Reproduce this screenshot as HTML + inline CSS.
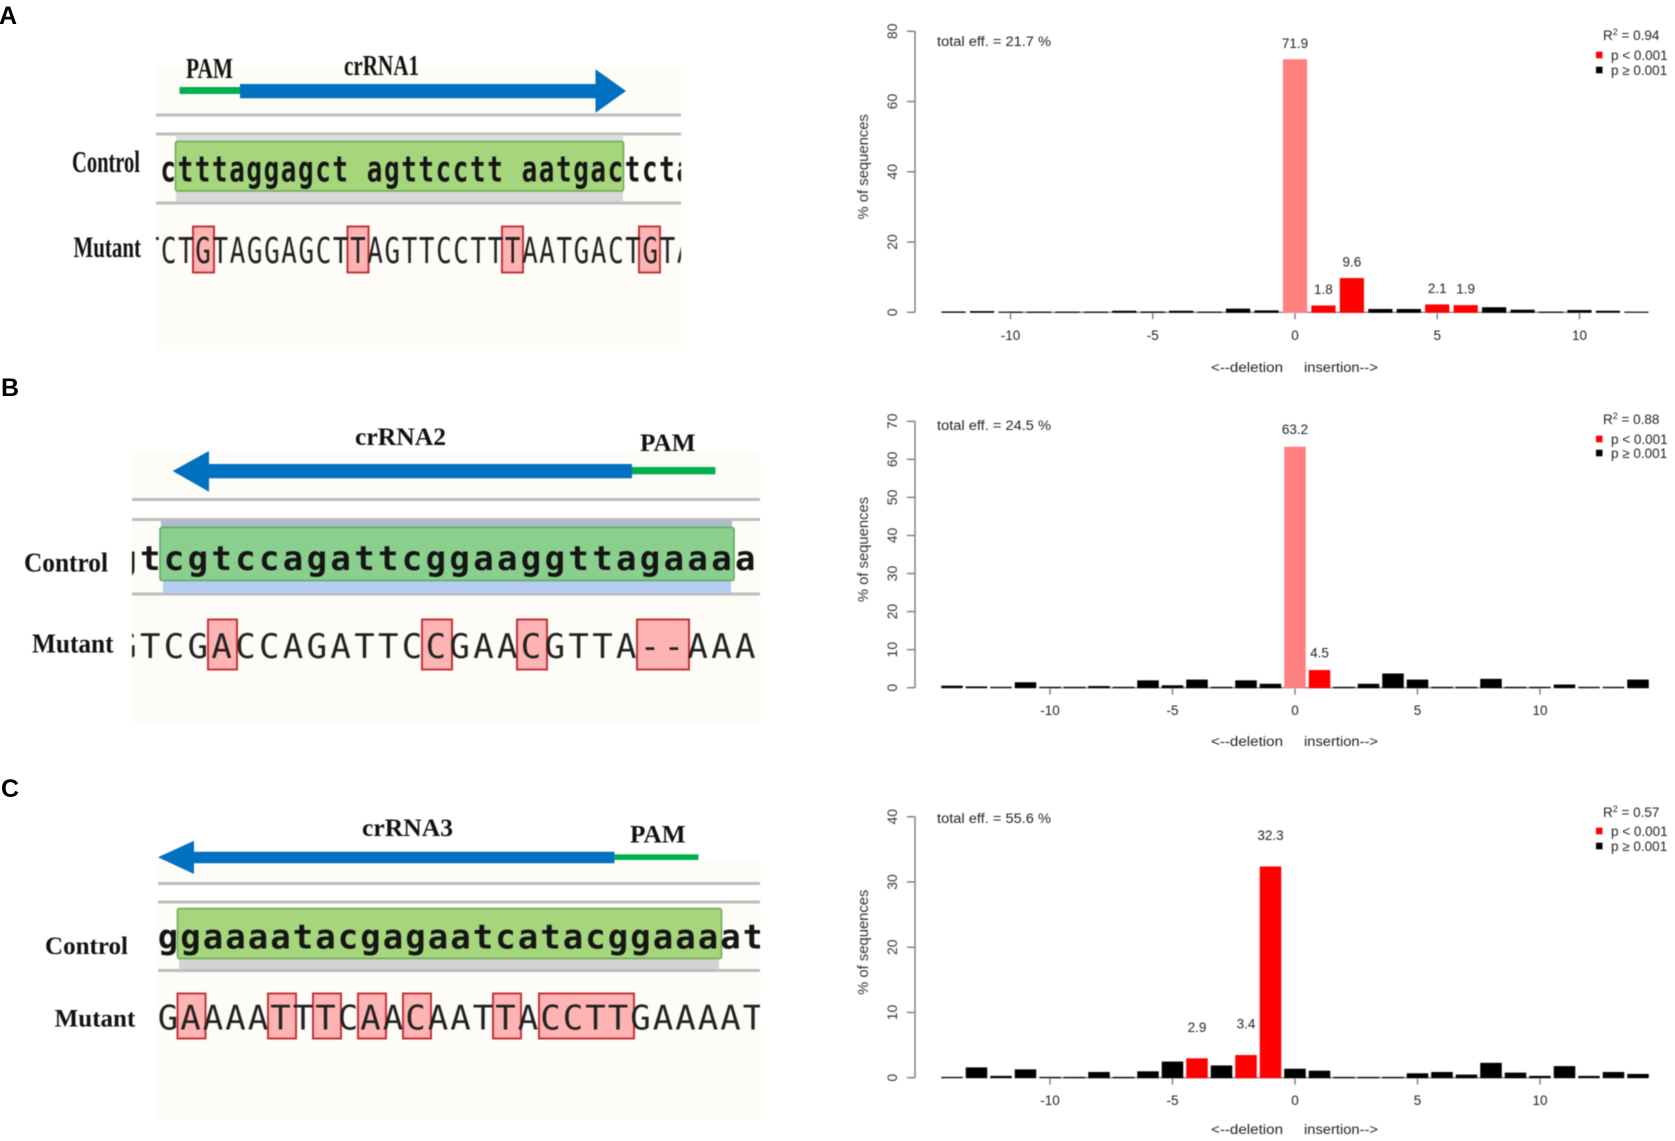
<!DOCTYPE html>
<html lang="en">
<head>
<meta charset="utf-8">
<title>crRNA target sequences and indel distributions</title>
<style>
html,body{margin:0;padding:0;background:#fff;width:1675px;height:1141px;overflow:hidden}
svg{display:block}
.serif{font-family:"Liberation Serif",serif;font-weight:bold;fill:#111}
.mono{font-family:"DejaVu Sans Mono","Liberation Mono",monospace;font-size:34px;fill:#222}
.mono.b{font-weight:bold;fill:#151515}
.panel{font-family:"Liberation Sans",sans-serif;font-weight:bold;font-size:25px;fill:#000}
.soft{filter:blur(.45px)}
.softer{filter:blur(.6px)}
.ct{font-family:"Liberation Sans",sans-serif;font-size:13.5px;fill:#222}
.box{fill:#ffb4b4;stroke:#c4323c;stroke-width:2}
.ln{fill:#bdbdbd}
</style>
</head>
<body>
<svg id="figure" xmlns="http://www.w3.org/2000/svg" width="1675" height="1141" viewBox="0 0 1675 1141">
<defs>
<clipPath id="clipA"><rect x="156" y="100" width="525" height="250"/></clipPath>
<clipPath id="clipB"><rect x="132" y="500" width="628" height="223"/></clipPath>
<clipPath id="clipC"><rect x="158" y="880" width="602" height="240"/></clipPath>
</defs>

<text class="panel" x="-1" y="24">A</text>
<text class="panel" x="1" y="396">B</text>
<text class="panel" x="1" y="797">C</text>

<!-- Panel A alignment -->
<g class="softer">
<rect x="156" y="67" width="525" height="283" fill="#fdfcf6"/>
<rect x="156" y="118" width="525" height="15" fill="#fff"/>
<rect class="ln" x="156" y="113.5" width="525" height="3"/>
<rect class="ln" x="156" y="132.5" width="525" height="3"/>
<rect class="ln" x="156" y="201.5" width="525" height="3"/>
<rect x="176" y="135" width="447" height="6" fill="#dcdcdc"/>
<rect x="176" y="191" width="447" height="11" fill="#d8d8d8"/>
<rect x="175.5" y="141.5" width="448" height="49.5" rx="2" fill="#a6d67c" stroke="#6aa850" stroke-width="1.5"/>
<text class="serif" x="186" y="78" font-size="29" textLength="47" lengthAdjust="spacingAndGlyphs">PAM</text>
<text class="serif" x="344" y="75" font-size="29" textLength="75" lengthAdjust="spacingAndGlyphs">crRNA1</text>
<rect x="179.5" y="87" width="60.5" height="7" fill="#00b050"/>
<polygon points="240,84 595.5,84 595.5,69.3 626,91 595.5,112.7 595.5,98.3 240,98.3" fill="#0070c0"/>
<text class="serif" x="72" y="172" font-size="31" textLength="68" lengthAdjust="spacingAndGlyphs">Control</text>
<text class="serif" x="73.5" y="257" font-size="30" textLength="67.5" lengthAdjust="spacingAndGlyphs">Mutant</text>
<rect class="box" x="193" y="226.5" width="21" height="46"/>
<rect class="box" x="347.5" y="226.5" width="21" height="46"/>
<rect class="box" x="502" y="226.5" width="21" height="46"/>
<rect class="box" x="639" y="226.5" width="21" height="46"/>
<g clip-path="url(#clipA)">
<text class="mono b" style="font-size:36px" letter-spacing="2.22" transform="translate(160.4 181.5) scale(.72 1)">ctttaggagct agttcctt aatgactcta</text>
<text class="mono" style="font-size:36px" letter-spacing="2.22" transform="translate(143.7 263) scale(.72 1)">TCTGTAGGAGCTTAGTTCCTTTAATGACTGTA</text>
</g>
</g>

<!-- Panel B alignment -->
<g class="softer">
<rect x="132" y="453" width="628" height="270" fill="#fdfcf6"/>
<rect x="132" y="502" width="628" height="16" fill="#fff"/>
<rect class="ln" x="132" y="498" width="628" height="3"/>
<rect class="ln" x="132" y="518" width="628" height="3"/>
<rect class="ln" x="132" y="592.5" width="628" height="3"/>
<rect x="161" y="521" width="571" height="6" fill="#a9bccb"/>
<rect x="163" y="581" width="568" height="12" fill="#b4cdf0"/>
<rect x="160" y="527.5" width="574" height="53" rx="2" fill="#8bcf8e" stroke="#5ea860" stroke-width="1.5"/>
<text class="serif" x="355" y="445" font-size="25" textLength="91" lengthAdjust="spacingAndGlyphs">crRNA2</text>
<text class="serif" x="640" y="451" font-size="25" textLength="55.5" lengthAdjust="spacingAndGlyphs">PAM</text>
<rect x="632" y="467" width="83.4" height="7.3" fill="#00b050"/>
<polygon points="632,464 209,464 209,451 172.6,471 209,491.7 209,478.3 632,478.3" fill="#0070c0"/>
<text class="serif" x="24" y="571.7" font-size="27" textLength="84" lengthAdjust="spacingAndGlyphs">Control</text>
<text class="serif" x="32" y="652.7" font-size="27" textLength="81.5" lengthAdjust="spacingAndGlyphs">Mutant</text>
<rect class="box" x="208" y="619.5" width="29" height="50"/>
<rect class="box" x="422" y="619.5" width="30" height="50"/>
<rect class="box" x="517" y="619.5" width="30" height="50"/>
<rect class="box" x="637" y="619.5" width="52" height="50"/>
<g clip-path="url(#clipB)">
<text class="mono b" letter-spacing="3.33" transform="translate(116.2 570)">gtcgtccagattcggaaggttagaaaag</text>
<text class="mono" letter-spacing="3.33" transform="translate(116.2 658)">GTCGACCAGATTCCGAACGTTA--AAAG</text>
</g>
</g>

<!-- Panel C alignment -->
<g class="softer">
<rect x="158" y="860" width="602" height="260" fill="#fdfcf6"/>
<rect x="158" y="886" width="602" height="15" fill="#fff"/>
<rect class="ln" x="158" y="882" width="602" height="3"/>
<rect class="ln" x="158" y="900.5" width="602" height="3"/>
<rect class="ln" x="158" y="969" width="602" height="3"/>
<rect x="179" y="958" width="540" height="11" fill="#d4d4d4"/>
<rect x="177.5" y="908.5" width="544" height="50" rx="2" fill="#a6d67c" stroke="#6aa850" stroke-width="1.5"/>
<text class="serif" x="362" y="836" font-size="25" textLength="91" lengthAdjust="spacingAndGlyphs">crRNA3</text>
<text class="serif" x="630" y="842.7" font-size="25" textLength="55.6" lengthAdjust="spacingAndGlyphs">PAM</text>
<rect x="614.4" y="854.3" width="84.1" height="5.7" fill="#00b050"/>
<polygon points="614.4,851.7 194,851.7 194,840.7 158,857.3 194,874 194,863.3 614.4,863.3" fill="#0070c0"/>
<text class="serif" x="45" y="954" font-size="25" textLength="83" lengthAdjust="spacingAndGlyphs">Control</text>
<text class="serif" x="54.7" y="1026.7" font-size="25" textLength="80.6" lengthAdjust="spacingAndGlyphs">Mutant</text>
<rect class="box" x="177.5" y="993.5" width="28" height="45"/>
<rect class="box" x="268" y="993.5" width="28" height="45"/>
<rect class="box" x="313" y="993.5" width="28" height="45"/>
<rect class="box" x="358" y="993.5" width="28" height="45"/>
<rect class="box" x="403" y="993.5" width="28" height="45"/>
<rect class="box" x="493" y="993.5" width="28" height="45"/>
<rect class="box" x="539" y="993.5" width="95" height="45"/>
<g clip-path="url(#clipC)">
<text class="mono b" letter-spacing="2.03" transform="translate(157.8 948.3)">ggaaaatacgagaatcatacggaaaat</text>
<text class="mono" letter-spacing="2.03" transform="translate(157.8 1029.3)">GAAAATTTCAACAATTACCTTGAAAAT</text>
</g>
</g>

<g id="chart-a" class="soft"></g>
<g id="chart-b" class="soft"></g>
<g id="chart-c" class="soft"></g>
</svg>

<script>
// Chart A data
const categoriesA = [-12,-11,-10,-9,-8,-7,-6,-5,-4,-3,-2,-1,0,1,2,3,4,5,6,7,8,9,10,11,12];
const valuesA = [0.1,0.2,0.05,0.05,0.05,0.05,0.3,0.1,0.3,0.05,0.9,0.4,71.9,1.8,9.6,0.8,0.8,2.1,1.9,1.3,0.6,0.05,0.5,0.3,0.05];
const significantA = [0,1,2,5,6];
const yTicksA = [0,20,40,60,80];
const xTicksA = [-10,-5,0,5,10];

// Chart B data
const categoriesB = [-14,-13,-12,-11,-10,-9,-8,-7,-6,-5,-4,-3,-2,-1,0,1,2,3,4,5,6,7,8,9,10,11,12,13,14];
const valuesB = [0.4,0.2,0.1,1.3,0.1,0.1,0.3,0.1,1.8,0.5,2.0,0.1,1.8,0.9,63.2,4.5,0.1,0.9,3.6,2.0,0.1,0.1,2.2,0.1,0.1,0.7,0.1,0.1,2.0];
const significantB = [0,1];
const yTicksB = [0,10,20,30,40,50,60,70];
const xTicksB = [-10,-5,0,5,10];

// Chart C data
const categoriesC = [-14,-13,-12,-11,-10,-9,-8,-7,-6,-5,-4,-3,-2,-1,0,1,2,3,4,5,6,7,8,9,10,11,12,13,14];
const valuesC = [0.05,1.5,0.2,1.2,0.05,0.05,0.8,0.05,0.9,2.4,2.9,1.8,3.4,32.3,1.3,1.0,0.05,0.05,0.05,0.6,0.8,0.4,2.2,0.7,0.2,1.7,0.2,0.8,0.5];
const significantC = [-4,-2,-1];
const yTicksC = [0,10,20,30,40];
const xTicksC = [-10,-5,0,5,10];

const SVGNS = 'http://www.w3.org/2000/svg';

function make(parent, tag, attrs, text) {
  const el = document.createElementNS(SVGNS, tag);
  for (const k in attrs) el.setAttribute(k, attrs[k]);
  if (text !== undefined) el.textContent = text;
  parent.appendChild(el);
  return el;
}

function drawChart(rootId, cats, vals, sig, yTicks, xTicks, o) {
  const root = document.getElementById(rootId);
  const xScale = v => o.x0 + v * o.unit;
  const yScale = v => o.y0 - (v / yTicks[yTicks.length - 1]) * (o.y0 - o.yTop);
  const axisX = 915;
  const axisColor = '#7b7b7b';

  // x axis line spans the tick range; outer bars stay as separate dashes
  const base = make(root, 'rect', {
    x: xScale(xTicks[0]),
    y: o.y0 - 0.6,
    width: xScale(xTicks[xTicks.length - 1]) - xScale(xTicks[0]),
    height: 1.2,
    fill: '#777'
  });
  
  

  // bars
  cats.forEach((c, i) => {
    const isSig = sig.includes(c);
    const color = isSig ? (c === 0 ? '#ff8080' : '#ff0000') : '#000000';
    const top = yScale(vals[i]);
    const bar = make(root, 'rect', {
      x: xScale(c) - o.barW / 2,
      y: top - 0.5,
      width: o.barW,
      height: o.y0 - top + 1,
      fill: color
    });
    
    
    if (isSig) {
      const label = make(root, 'text', {
        class: 'ct',
        x: xScale(c),
        y: top - o.labelOffset + 5,
        'text-anchor': 'middle'
      }, vals[i].toFixed(1));
      
      
    }
  });

  // y axis
  const yAxis = make(root, 'rect', {x: axisX - 0.7, y: o.yTop, width: 1.4, height: o.y0 - o.yTop, fill: axisColor});
  
  

  yTicks.forEach(t => {
    const tick = make(root, 'rect', {x: axisX - 8, y: yScale(t) - 0.7, width: 8, height: 1.4, fill: axisColor});
    
    
    const lab = make(root, 'text', {
      class: 'ct', x: 897, y: yScale(t), 'text-anchor': 'middle',
      style: 'font-size:14px;fill:#333',
      transform: 'rotate(-90 897 ' + yScale(t) + ')'
    }, String(t));
    
    
  });

  xTicks.forEach(t => {
    const tick = make(root, 'rect', {x: xScale(t) - 0.7, y: o.y0 + 1, width: 1.4, height: 6, fill: axisColor});
    
    
    const lab = make(root, 'text', {
      class: 'ct', x: xScale(t), y: o.xTickY + 5, 'text-anchor': 'middle'
    }, String(t));
    
    
  });

  // y title
  const midY = (o.y0 + o.yTop) / 2 - 5;
  const yTitle = make(root, 'text', {
    class: 'ct', x: 868, y: midY, 'text-anchor': 'middle',
    style: 'font-size:14.8px;fill:#333',
    transform: 'rotate(-90 868 ' + midY + ')'
  }, '% of sequences');
  
  

  // x titles
  const del = make(root, 'text', {class: 'ct', x: 1211, y: o.xTitleY + 5, textLength: 72, lengthAdjust: 'spacingAndGlyphs'}, '<--deletion');
  
  
  const ins = make(root, 'text', {class: 'ct', x: 1304, y: o.xTitleY + 5, textLength: 74, lengthAdjust: 'spacingAndGlyphs'}, 'insertion-->');
  
  

  // annotations
  const eff = make(root, 'text', {class: 'ct', x: 937, y: o.effY + 5, textLength: 114, lengthAdjust: 'spacingAndGlyphs'}, o.eff);
  
  

  const r2 = make(root, 'text', {class: 'ct', x: 1603, y: o.r2Y + 5});
  
  
  make(r2, 'tspan', {}, 'R');
  make(r2, 'tspan', {dy: -5, style: 'font-size:9px'}, '2');
  make(r2, 'tspan', {dy: 5}, ' = ' + o.r2);

  const swRed = make(root, 'rect', {x: 1596, y: o.legRedY - 3.3, width: 6.5, height: 6.6, fill: '#ff0000'});
  
  
  const txtRed = make(root, 'text', {class: 'ct', x: 1611, y: o.legRedY + 5}, 'p < 0.001');
  
  
  const swBlack = make(root, 'rect', {x: 1596, y: o.legBlackY - 3.3, width: 6.5, height: 6.6, fill: '#000000'});
  
  
  const txtBlack = make(root, 'text', {class: 'ct', x: 1611, y: o.legBlackY + 5}, 'p \u2265 0.001');
  
  
}

drawChart('chart-a', categoriesA, valuesA, significantA, yTicksA, xTicksA, {
  x0: 1295, unit: 28.45, barW: 24.2, y0: 312.3, yTop: 31.3, labelOffset: 17,
  xTickY: 335, xTitleY: 367, effY: 41, r2Y: 35, legRedY: 55, legBlackY: 70,
  eff: 'total eff. = 21.7 %', r2: '0.94'
});
drawChart('chart-b', categoriesB, valuesB, significantB, yTicksB, xTicksB, {
  x0: 1295, unit: 24.5, barW: 21.5, y0: 687.7, yTop: 421.3, labelOffset: 18,
  xTickY: 710, xTitleY: 741, effY: 425, r2Y: 419, legRedY: 439, legBlackY: 453,
  eff: 'total eff. = 24.5 %', r2: '0.88'
});
drawChart('chart-c', categoriesC, valuesC, significantC, yTicksC, xTicksC, {
  x0: 1295, unit: 24.5, barW: 21.5, y0: 1077.7, yTop: 816.7, labelOffset: 32,
  xTickY: 1100, xTitleY: 1129, effY: 818, r2Y: 812, legRedY: 831, legBlackY: 846,
  eff: 'total eff. = 55.6 %', r2: '0.57'
});
</script>
</body>
</html>
